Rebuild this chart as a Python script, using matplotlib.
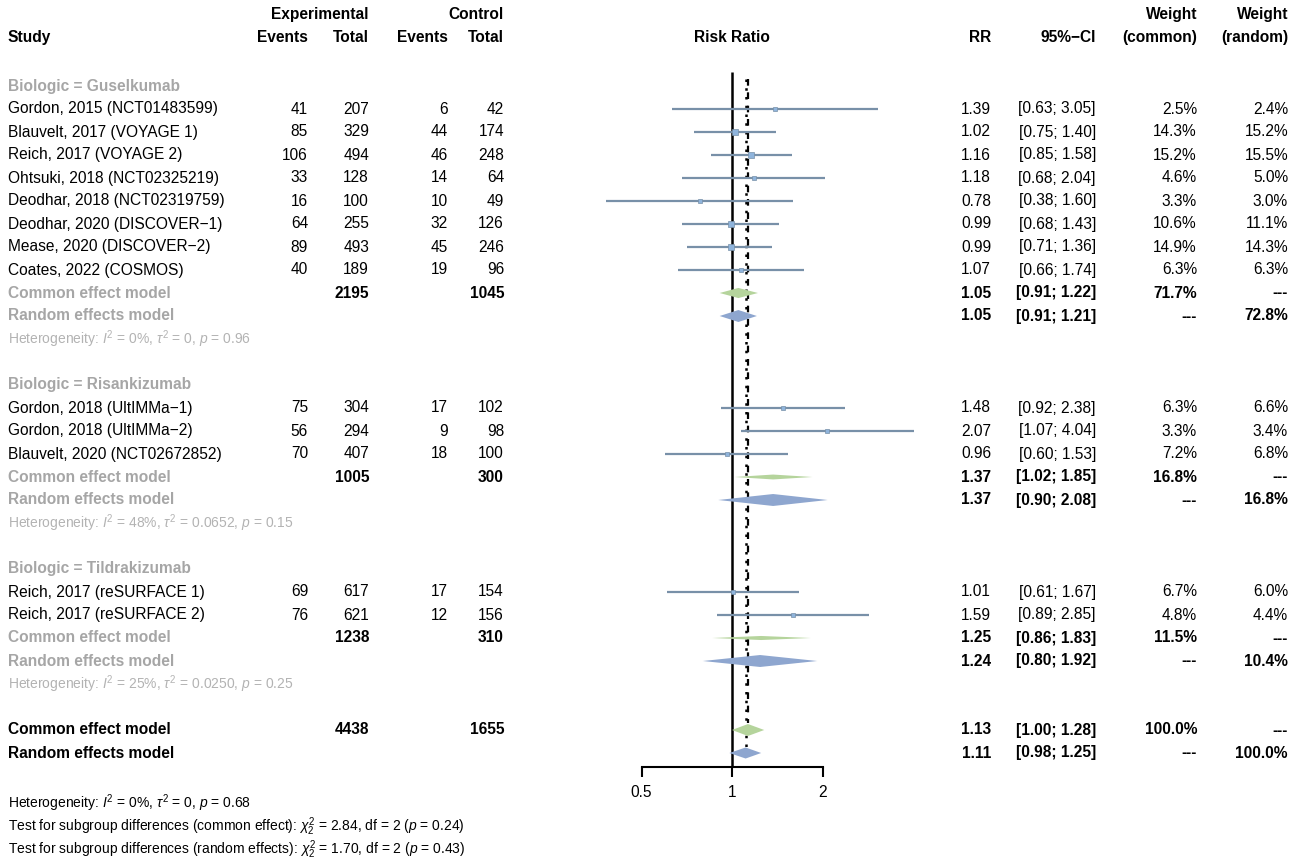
import numpy as np
import matplotlib
matplotlib.use("Agg")
import matplotlib.pyplot as plt
from matplotlib.transforms import blended_transform_factory
from matplotlib.ticker import NullLocator, FixedLocator, FixedFormatter

plt.rcParams["font.family"] = ["Liberation Sans", "DejaVu Sans"]
plt.rcParams["mathtext.fontset"] = "custom"
plt.rcParams["mathtext.rm"] = "Liberation Sans"
plt.rcParams["mathtext.it"] = "Liberation Sans:italic"
plt.rcParams["mathtext.bf"] = "Liberation Sans:bold"

# ---- data ----
groups = ["Guselkumab", "Risankizumab", "Tildrakizumab"]

study_group = [0, 0, 0, 0, 0, 0, 0, 0, 1, 1, 1, 2, 2]
studies = [
    "Gordon, 2015 (NCT01483599)", "Blauvelt, 2017 (VOYAGE 1)", "Reich, 2017 (VOYAGE 2)",
    "Ohtsuki, 2018 (NCT02325219)", "Deodhar, 2018 (NCT02319759)", "Deodhar, 2020 (DISCOVER\u22121)",
    "Mease, 2020 (DISCOVER\u22122)", "Coates, 2022 (COSMOS)",
    "Gordon, 2018 (UltIMMa\u22121)", "Gordon, 2018 (UltIMMa\u22122)", "Blauvelt, 2020 (NCT02672852)",
    "Reich, 2017 (reSURFACE 1)", "Reich, 2017 (reSURFACE 2)",
]
ev_exp = [41, 85, 106, 33, 16, 64, 89, 40, 75, 56, 70, 69, 76]
n_exp = [207, 329, 494, 128, 100, 255, 493, 189, 304, 294, 407, 617, 621]
ev_ctl = [6, 44, 46, 14, 10, 32, 45, 19, 17, 9, 18, 17, 12]
n_ctl = [42, 174, 248, 64, 49, 126, 246, 96, 102, 98, 100, 154, 156]
rr = [1.39, 1.02, 1.16, 1.18, 0.78, 0.99, 0.99, 1.07, 1.48, 2.07, 0.96, 1.01, 1.59]
rr_lo = [0.63, 0.75, 0.85, 0.68, 0.38, 0.68, 0.71, 0.66, 0.92, 1.07, 0.60, 0.61, 0.89]
rr_hi = [3.05, 1.40, 1.58, 2.04, 1.60, 1.43, 1.36, 1.74, 2.38, 4.04, 1.53, 1.67, 2.85]
w_common = [2.5, 14.3, 15.2, 4.6, 3.3, 10.6, 14.9, 6.3, 6.3, 3.3, 7.2, 6.7, 4.8]
w_random = [2.4, 15.2, 15.5, 5.0, 3.0, 11.1, 14.3, 6.3, 6.6, 3.4, 6.8, 6.0, 4.4]

# subgroup pooled results
sub_n_exp = [2195, 1005, 1238]
sub_n_ctl = [1045, 300, 310]
sub_ce = [1.05, 1.37, 1.25]
sub_ce_lo = [0.91, 1.02, 0.86]
sub_ce_hi = [1.22, 1.85, 1.83]
sub_ce_w = [71.7, 16.8, 11.5]
sub_re = [1.05, 1.37, 1.24]
sub_re_lo = [0.91, 0.90, 0.80]
sub_re_hi = [1.21, 2.08, 1.92]
sub_re_w = [72.8, 16.8, 10.4]
sub_i2 = ["0%", "48%", "25%"]
sub_tau2 = ["0", "0.0652", "0.0250"]
sub_p = ["0.96", "0.15", "0.25"]

# overall pooled results
tot_n_exp, tot_n_ctl = 4438, 1655
tot_ce, tot_ce_lo, tot_ce_hi = 1.13, 1.00, 1.28
tot_re, tot_re_lo, tot_re_hi = 1.11, 0.98, 1.25
tot_i2, tot_tau2, tot_p = "0%", "0", "0.68"
chi2_common, df_common, p_common = "2.84", "2", "0.24"
chi2_random, df_random, p_random = "1.70", "2", "0.43"

# ---- layout ----
W, H = 1299, 867
fig = plt.figure(figsize=(W / 100, H / 100), dpi=100)

px1, ppd = 732, 90.5  # pixel of RR=1, pixels per doubling
row0, rowh = 86, 23   # pixel of first row, row height


def x_at(p):
    return 2 ** ((p - px1) / ppd)


ax = fig.add_axes([560 / W, 0, 380 / W, 1])
ax.set_xscale("log", base=2)
ax.set_xlim(x_at(560), x_at(940))
ax.set_ylim((H - row0) / rowh, -row0 / rowh)
ax.patch.set_alpha(0)
for s in ["left", "right", "top"]:
    ax.spines[s].set_visible(False)
ax.spines["bottom"].set_position(("data", 29.6))
ax.spines["bottom"].set_bounds(0.5, 2)
ax.spines["bottom"].set_linewidth(1.5)
ax.xaxis.set_major_locator(FixedLocator([0.5, 1, 2]))
ax.xaxis.set_major_formatter(FixedFormatter(["0.5", "1", "2"]))
ax.xaxis.set_minor_locator(NullLocator())
ax.tick_params(axis="x", length=7, width=1.5, pad=6, labelsize=11.2)
ax.set_yticks([])

tr = blended_transform_factory(fig.transFigure, ax.transData)

GRAY = "#a6a6a6"
HET_GRAY = "#b3b3b3"
LINE_C = "#7890a8"
SQ_C = "#8fb4dc"
CE_C = "#b5d49c"
RE_C = "#8ea6cf"
FS = 11.2
FS_SMALL = 10

c_study = 8 / W
c_ee, c_ne, c_ec, c_nc = 308 / W, 369 / W, 448 / W, 504 / W
c_rr, c_ci, c_wc, c_wr = 991 / W, 1096 / W, 1197 / W, 1288 / W


def txt(x, y, s, ha="right", **kw):
    kw.setdefault("fontsize", FS)
    ax.text(x, y, s, transform=tr, ha=ha, va="center", **kw)


def ci_str(lo, hi):
    return f"[{lo:.2f}; {hi:.2f}]"


def diamond(y, est, lo, hi, half, color):
    ax.fill([lo, est, hi, est], [y, y - half, y, y + half], color=color,
            lw=0, zorder=3, clip_on=False)


# headers
hy0, hy = -3.1, -2.1
txt(c_ne, hy0, "Experimental", fontweight="bold")
txt(c_nc, hy0, "Control", fontweight="bold")
txt(c_wc, hy0, "Weight", fontweight="bold")
txt(c_wr, hy0, "Weight", fontweight="bold")
txt(c_study, hy, "Study", ha="left", fontweight="bold")
txt(c_ee, hy, "Events", fontweight="bold")
txt(c_ne, hy, "Total", fontweight="bold")
txt(c_ec, hy, "Events", fontweight="bold")
txt(c_nc, hy, "Total", fontweight="bold")
txt(px1 / W, hy, "Risk Ratio", ha="center", fontweight="bold")
txt(c_rr, hy, "RR", fontweight="bold")
txt(c_ci, hy, "95%\u2212CI", fontweight="bold")
txt(c_wc, hy, "(common)", fontweight="bold")
txt(c_wr, hy, "(random)", fontweight="bold")

# body
y = 0
for g, name in enumerate(groups):
    txt(c_study, y, f"Biologic = {name}", ha="left", color=GRAY, fontweight="bold")
    y += 1
    for i in [k for k, sg in enumerate(study_group) if sg == g]:
        txt(c_study, y, studies[i], ha="left")
        txt(c_ee, y, str(ev_exp[i]))
        txt(c_ne, y, str(n_exp[i]))
        txt(c_ec, y, str(ev_ctl[i]))
        txt(c_nc, y, str(n_ctl[i]))
        txt(c_rr, y, f"{rr[i]:.2f}")
        txt(c_ci, y, ci_str(rr_lo[i], rr_hi[i]))
        txt(c_wc, y, f"{w_common[i]:.1f}%")
        txt(c_wr, y, f"{w_random[i]:.1f}%")
        ax.plot([rr_lo[i], rr_hi[i]], [y, y], color=LINE_C, lw=1.6, zorder=2,
                solid_capstyle="butt", clip_on=False)
        ax.plot([rr[i]], [y], marker="s", ms=0.8 + 1.0 * np.sqrt(w_common[i]),
                color=SQ_C, mec=LINE_C, mew=0.5, zorder=4, clip_on=False)
        y += 1
    # common effect
    txt(c_study, y, "Common effect model", ha="left", color=GRAY, fontweight="bold")
    txt(c_ne, y, str(sub_n_exp[g]), fontweight="bold")
    txt(c_nc, y, str(sub_n_ctl[g]), fontweight="bold")
    txt(c_rr, y, f"{sub_ce[g]:.2f}", fontweight="bold")
    txt(c_ci, y, ci_str(sub_ce_lo[g], sub_ce_hi[g]), fontweight="bold")
    txt(c_wc, y, f"{sub_ce_w[g]:.1f}%", fontweight="bold")
    txt(c_wr, y, "---", fontweight="bold")
    diamond(y, sub_ce[g], sub_ce_lo[g], sub_ce_hi[g],
            0.26 * np.sqrt(sub_ce_w[g] / 100), CE_C)
    y += 1
    # random effects
    txt(c_study, y, "Random effects model", ha="left", color=GRAY, fontweight="bold")
    txt(c_rr, y, f"{sub_re[g]:.2f}", fontweight="bold")
    txt(c_ci, y, ci_str(sub_re_lo[g], sub_re_hi[g]), fontweight="bold")
    txt(c_wc, y, "---", fontweight="bold")
    txt(c_wr, y, f"{sub_re_w[g]:.1f}%", fontweight="bold")
    diamond(y, sub_re[g], sub_re_lo[g], sub_re_hi[g], 0.26, RE_C)
    y += 1
    txt(c_study, y, f"Heterogeneity: $I^2$ = {sub_i2[g]}, $\\tau^2$ = {sub_tau2[g]}, $p$ = {sub_p[g]}",
        ha="left", color=HET_GRAY, fontsize=FS_SMALL)
    y += 2

# overall
txt(c_study, y, "Common effect model", ha="left", fontweight="bold")
txt(c_ne, y, str(tot_n_exp), fontweight="bold")
txt(c_nc, y, str(tot_n_ctl), fontweight="bold")
txt(c_rr, y, f"{tot_ce:.2f}", fontweight="bold")
txt(c_ci, y, ci_str(tot_ce_lo, tot_ce_hi), fontweight="bold")
txt(c_wc, y, "100.0%", fontweight="bold")
txt(c_wr, y, "---", fontweight="bold")
diamond(y, tot_ce, tot_ce_lo, tot_ce_hi, 0.26, CE_C)
y_ce = y
y += 1
txt(c_study, y, "Random effects model", ha="left", fontweight="bold")
txt(c_rr, y, f"{tot_re:.2f}", fontweight="bold")
txt(c_ci, y, ci_str(tot_re_lo, tot_re_hi), fontweight="bold")
txt(c_wc, y, "---", fontweight="bold")
txt(c_wr, y, "100.0%", fontweight="bold")
diamond(y, tot_re, tot_re_lo, tot_re_hi, 0.24, RE_C)

# reference lines
ax.plot([1, 1], [-0.6, 29.6], color="black", lw=1.8, zorder=1, solid_capstyle="butt")
ax.plot([tot_ce, tot_ce], [-0.3, y_ce - 0.3], color="black", lw=1.6, ls=(0, (3, 3)), zorder=1)
ax.plot([tot_re, tot_re], [-0.3, y + 0.1], color="black", lw=1.8, ls=(0, (1, 2.5)), zorder=1)

# footer
fy = y + 2.2
txt(c_study, fy, f"Heterogeneity: $I^2$ = {tot_i2}, $\\tau^2$ = {tot_tau2}, $p$ = {tot_p}",
    ha="left", fontsize=FS_SMALL)
txt(c_study, fy + 1, "Test for subgroup differences (common effect): "
    f"$\\chi^2_2$ = {chi2_common}, df = {df_common} ($p$ = {p_common})", ha="left", fontsize=FS_SMALL)
txt(c_study, fy + 2, "Test for subgroup differences (random effects): "
    f"$\\chi^2_2$ = {chi2_random}, df = {df_random} ($p$ = {p_random})", ha="left", fontsize=FS_SMALL)

fig.savefig("out.png", dpi=100)
